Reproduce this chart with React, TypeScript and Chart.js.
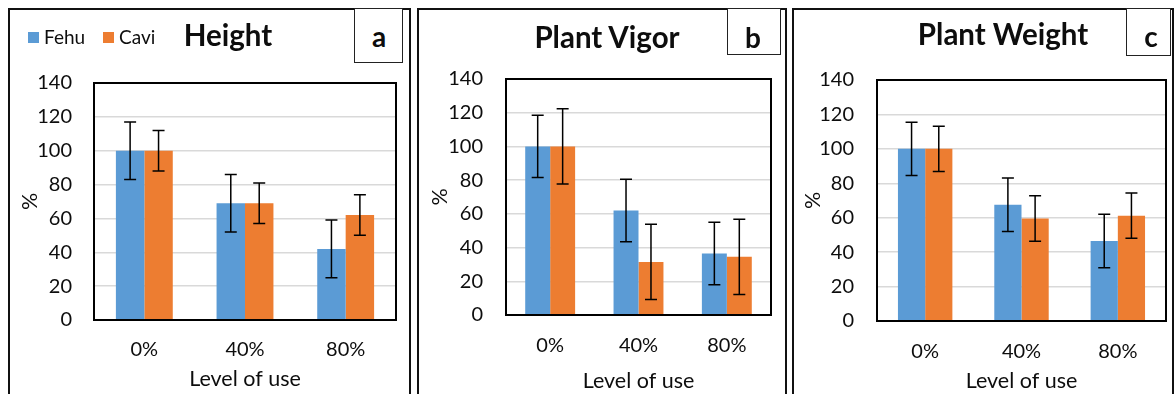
import React, { useEffect, useRef } from 'react';
import { Chart, registerables } from 'chart.js';

Chart.register(...registerables);

// ---------- data ----------
const categories = ['0%', '40%', '80%'];
const seriesNames = ['Fehu', 'Cavi'];
const yTickValues = [0, 20, 40, 60, 80, 100, 120, 140];

const heightFehu = [100, 69, 42];
const heightFehuErr = [17, 17, 17];
const heightCavi = [100, 69, 62];
const heightCaviErr = [12, 12, 12];

const vigorFehu = [100, 62, 36.5];
const vigorFehuErr = [18.5, 18.5, 18.5];
const vigorCavi = [100, 31.5, 34.5];
const vigorCaviErr = [22.3, 22.3, 22.3];

const weightFehu = [100, 67.5, 46.5];
const weightFehuErr = [15.5, 15.5, 15.5];
const weightCavi = [100, 59.5, 61.2];
const weightCaviErr = [13.2, 13.2, 13.2];

const panelTitles = ['Height', 'Plant Vigor', 'Plant Weight'];
const panelLetters = ['a', 'b', 'c'];
const xAxisTitle = 'Level of use';
const yAxisTitle = '%';

// ---------- style / layout ----------
const W = 1176;
const H = 394;
const BLUE = '#5B9BD5';
const ORANGE = '#ED7D31';
const TEXT = '#0d0d0d';
const FONT = 'Lato, "Open Sans", sans-serif';

type Panel = {
  fehu: number[]; fehuErr: number[]; cavi: number[]; caviErr: number[];
  plot: { left: number; top: number; right: number; bottom: number };
  yLabelRight: number; yTitleX: number; xLabelY: number; xTitleY: number;
};

const panels: Panel[] = [
  {
    fehu: heightFehu, fehuErr: heightFehuErr, cavi: heightCavi, caviErr: heightCaviErr,
    plot: { left: 94, top: 83, right: 396, bottom: 320 },
    yLabelRight: 72, yTitleX: 30, xLabelY: 350, xTitleY: 379,
  },
  {
    fehu: vigorFehu, fehuErr: vigorFehuErr, cavi: vigorCavi, caviErr: vigorCaviErr,
    plot: { left: 506, top: 79, right: 771, bottom: 315 },
    yLabelRight: 483, yTitleX: 440, xLabelY: 346, xTitleY: 381,
  },
  {
    fehu: weightFehu, fehuErr: weightFehuErr, cavi: weightCavi, caviErr: weightCaviErr,
    plot: { left: 877, top: 80, right: 1166, bottom: 321 },
    yLabelRight: 854, yTitleX: 813, xLabelY: 352, xTitleY: 381,
  },
];

const errorBarPlugin = {
  id: 'errorBars',
  afterDatasetsDraw(chart: any) {
    const ctx = chart.ctx;
    const y = chart.scales.y;
    ctx.save();
    ctx.strokeStyle = '#000';
    ctx.lineWidth = 1.5;
    chart.data.datasets.forEach((ds: any, di: number) => {
      const meta = chart.getDatasetMeta(di);
      meta.data.forEach((bar: any, i: number) => {
        const v = ds.data[i];
        const e = ds.errors[i];
        const yt = y.getPixelForValue(v + e);
        const yb = y.getPixelForValue(v - e);
        const x = bar.x;
        const cap = 6;
        ctx.beginPath();
        ctx.moveTo(x, yt);
        ctx.lineTo(x, yb);
        ctx.moveTo(x - cap, yt);
        ctx.lineTo(x + cap, yt);
        ctx.moveTo(x - cap, yb);
        ctx.lineTo(x + cap, yb);
        ctx.stroke();
      });
    });
    ctx.restore();
  },
};

const frameBorderPlugin = {
  id: 'frameBorder',
  afterDraw(chart: any) {
    const { left, top, right, bottom } = chart.chartArea;
    const ctx = chart.ctx;
    ctx.save();
    ctx.strokeStyle = '#000';
    ctx.lineWidth = 2;
    ctx.strokeRect(left, top, right - left, bottom - top);
    ctx.restore();
  },
};

function makeConfig(p: Panel): any {
  const tickSize = 20;
  const titleSize = 21.5;
  const lh = tickSize * 1.2;
  const tlh = titleSize * 1.2;
  const padLeft = p.yTitleX - tlh / 2;
  const padBottom = H - p.xTitleY - tlh / 2;
  const font = { family: FONT, size: tickSize };
  const tfont = { family: FONT, size: titleSize };
  return {
    type: 'bar',
    data: {
      labels: categories,
      datasets: [
        { label: seriesNames[0], data: p.fehu, errors: p.fehuErr, backgroundColor: BLUE },
        { label: seriesNames[1], data: p.cavi, errors: p.caviErr, backgroundColor: ORANGE },
      ],
    },
    options: {
      responsive: false,
      maintainAspectRatio: false,
      animation: false,
      devicePixelRatio: 1,
      events: [],
      layout: {
        padding: { left: padLeft, top: p.plot.top, right: W - p.plot.right, bottom: padBottom },
      },
      datasets: { bar: { categoryPercentage: 0.565, barPercentage: 1 } },
      plugins: { legend: { display: false }, tooltip: { enabled: false }, title: { display: false } },
      scales: {
        x: {
          grid: { display: false, drawTicks: false },
          border: { display: false },
          ticks: { font, color: TEXT, padding: p.xLabelY - p.plot.bottom - lh / 2, maxRotation: 0 },
          title: { display: true, text: xAxisTitle, font: tfont, color: TEXT, padding: 0 },
          afterFit: (s: any) => { s.height = H - padBottom - p.plot.bottom; },
        },
        y: {
          min: yTickValues[0],
          max: yTickValues[yTickValues.length - 1],
          afterBuildTicks: (s: any) => { s.ticks = yTickValues.map((v) => ({ value: v })); },
          ticks: { font, color: TEXT, padding: p.plot.left - p.yLabelRight },
          grid: {
            drawTicks: false,
            lineWidth: 1.5,
            color: (c: any) =>
              c.tick && (c.tick.value === yTickValues[0] || c.tick.value === yTickValues[yTickValues.length - 1])
                ? 'rgba(0,0,0,0)'
                : '#d9d9d9',
          },
          border: { display: false },
          title: { display: true, text: yAxisTitle, font: tfont, color: TEXT, padding: 0 },
          afterFit: (s: any) => { s.width = p.plot.left - padLeft; },
        },
      },
    },
    plugins: [errorBarPlugin, frameBorderPlugin],
  };
}

function PanelChart({ panel }: { panel: Panel }) {
  const ref = useRef<HTMLCanvasElement | null>(null);
  useEffect(() => {
    if (!ref.current) return;
    const chart = new Chart(ref.current, makeConfig(panel));
    return () => chart.destroy();
  }, [panel]);
  return (
    <canvas
      ref={ref}
      width={W}
      height={H}
      style={{ position: 'absolute', left: 0, top: 0, width: W, height: H }}
    />
  );
}

const abs = (s: React.CSSProperties): React.CSSProperties => ({ position: 'absolute', ...s });

const panelBoxes = [
  { left: 8, right: 411 },
  { left: 417, right: 787 },
  { left: 792, right: 1174 },
];
const letterBoxes = [
  { left: 354, top: 8, right: 403, bottom: 63, cx: 379, cy: 36 },
  { left: 727, top: 8, right: 781, bottom: 55, cx: 753, cy: 37 },
  { left: 1126, top: 8, right: 1171, bottom: 56, cx: 1151, cy: 36 },
];
const titlePos = [
  { cx: 228, cy: 35 },
  { cx: 607, cy: 37 },
  { cx: 1003, cy: 34 },
];

function centered(cx: number, cy: number, style: React.CSSProperties, text: string, key?: string) {
  return (
    <div
      key={key}
      style={abs({
        left: cx,
        top: cy,
        transform: 'translate(-50%, -50%)',
        lineHeight: 1,
        whiteSpace: 'nowrap',
        fontFamily: FONT,
        color: TEXT,
        ...style,
      })}
    >
      {text}
    </div>
  );
}

export default function App() {
  return (
    <div
      style={{
        position: 'fixed', left: 0, top: 0, width: W, height: H,
        background: '#fff', overflow: 'hidden',
      }}
    >
      {panels.map((p, i) => <PanelChart key={i} panel={p} />)}

      {panelBoxes.map((b, i) => (
        <div
          key={'pb' + i}
          style={abs({
            left: b.left, top: 8, width: b.right - b.left, height: 420,
            border: '2px solid #111', boxSizing: 'border-box',
          })}
        />
      ))}

      {letterBoxes.map((b, i) => (
        <div
          key={'lb' + i}
          style={abs({
            left: b.left, top: b.top, width: b.right - b.left, height: b.bottom - b.top,
            border: '1.5px solid #222', boxSizing: 'border-box', background: '#fff',
          })}
        />
      ))}
      {letterBoxes.map((b, i) =>
        centered(b.cx, b.cy, { fontSize: 28, fontWeight: 700 }, panelLetters[i], 'lt' + i)
      )}

      {titlePos.map((t, i) =>
        centered(t.cx, t.cy, { fontSize: 29.5, fontWeight: 700 }, panelTitles[i], 'tt' + i)
      )}

      {/* legend */}
      <div style={abs({ left: 28, top: 32, width: 11, height: 11, background: BLUE })} />
      <div style={abs({ left: 44, top: 36, transform: 'translateY(-50%)', lineHeight: 1, fontFamily: FONT, fontSize: 19, color: TEXT })}>
        {seriesNames[0]}
      </div>
      <div style={abs({ left: 103, top: 32, width: 11, height: 11, background: ORANGE })} />
      <div style={abs({ left: 119, top: 36, transform: 'translateY(-50%)', lineHeight: 1, fontFamily: FONT, fontSize: 19, color: TEXT })}>
        {seriesNames[1]}
      </div>
    </div>
  );
}
